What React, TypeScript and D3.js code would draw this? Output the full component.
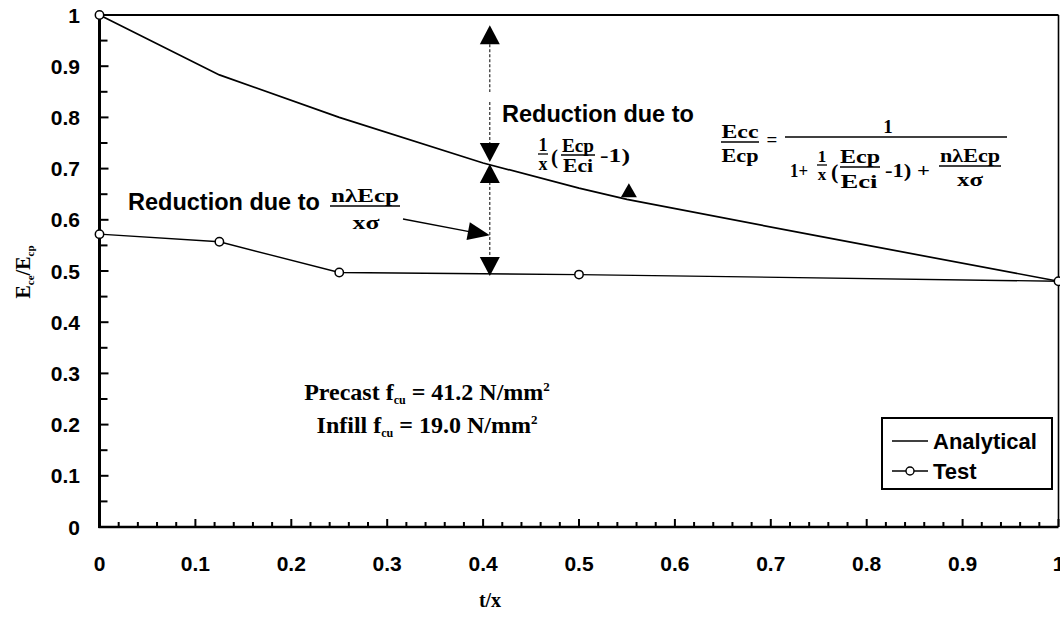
import React from 'react';
import * as d3 from 'd3';

// ---- data ----
const analyticalX = [0, 0.125, 0.25, 0.4, 0.5, 0.55, 0.75, 1];
const analyticalY = [1, 0.883, 0.8, 0.711, 0.662, 0.64, 0.568, 0.48];
const testX = [0, 0.125, 0.25, 0.5, 1];
const testY = [0.572, 0.557, 0.497, 0.493, 0.48];
const extraPointX = [0];
const extraPointY = [1];
const xTickValues = [0, 0.1, 0.2, 0.3, 0.4, 0.5, 0.6, 0.7, 0.8, 0.9, 1];
const xTickLabels = ['0', '0.1', '0.2', '0.3', '0.4', '0.5', '0.6', '0.7', '0.8', '0.9', '1'];
const yTickValues = [0, 0.1, 0.2, 0.3, 0.4, 0.5, 0.6, 0.7, 0.8, 0.9, 1];
const yTickLabels = ['0', '0.1', '0.2', '0.3', '0.4', '0.5', '0.6', '0.7', '0.8', '0.9', '1'];
const seriesNames = ['Analytical', 'Test'];
// annotation anchors (data units)
const dimX = 0.407;
const dimTop = 0.98;
const dimMid = 0.711;
const dimBottom = 0.49;
const pointerTriX = 0.552;
const pointerTriY = 0.64;

const W = 1060;
const H = 618;
const SANS = '"Liberation Sans", Arial, Helvetica, sans-serif';
const SERIF = '"Liberation Serif", "Times New Roman", serif';

function tri(ax: number, ay: number, dx: number, dy: number, len: number, hw: number) {
  const n = Math.hypot(dx, dy);
  const ux = dx / n, uy = dy / n;
  const bx = ax - ux * len, by = ay - uy * len;
  const px = -uy, py = ux;
  return `M${ax},${ay}L${bx + px * hw},${by + py * hw}L${bx - px * hw},${by - py * hw}Z`;
}

function T(props: { x: number; y: number; w?: number; size?: number; anchor?: string; children: React.ReactNode }) {
  const { x, y, w, size, anchor, children } = props;
  return (
    <text
      x={x}
      y={y}
      fontSize={size}
      textAnchor={anchor || 'middle'}
      {...(w ? { textLength: w, lengthAdjust: 'spacingAndGlyphs' } : {})}
    >
      {children}
    </text>
  );
}

export default function App() {
  const x = d3.scaleLinear().domain([0, 1]).range([99.5, 1058.5]);
  const y = d3.scaleLinear().domain([0, 1]).range([527, 15]);
  const line = d3.line<[number, number]>().x((d) => x(d[0])).y((d) => y(d[1]));
  const analytical: [number, number][] = analyticalX.map((v, i) => [v, analyticalY[i]]);
  const test: [number, number][] = testX.map((v, i) => [v, testY[i]]);

  const xMinor = d3.range(0, 51).map((i) => i / 50).filter((_, i) => i % 5 !== 0);
  const yMinor = d3.range(0, 21).map((i) => i / 20).filter((_, i) => i % 2 !== 0);

  const dx = x(dimX);
  const aw = 10;
  const al = 19;

  const pStart: [number, number] = [403, 219];
  const pEnd: [number, number] = [dx, y(0.57)];

  const ptx = x(pointerTriX);
  const pty = y(pointerTriY) - 2;

  return (
    <svg width={W} height={H} style={{ position: 'absolute', left: 0, top: 0, background: '#fff' }}>
      <rect width={W} height={H} fill="#fff" />
      {/* frame */}
      <line x1={x(0)} x2={x(1)} y1={y(1)} y2={y(1)} stroke="#000" strokeWidth={2.2} />
      <line x1={x(1)} x2={x(1)} y1={y(1)} y2={y(0)} stroke="#000" strokeWidth={1.6} />
      <line x1={x(0)} x2={x(0)} y1={y(1) - 1} y2={y(0) + 1} stroke="#000" strokeWidth={3} />
      <line x1={x(0) - 1} x2={x(1)} y1={y(0)} y2={y(0)} stroke="#000" strokeWidth={2.6} />

      {/* y ticks */}
      {yTickValues.map((v) => (
        <line key={'yt' + v} x1={x(0)} x2={x(0) + 9} y1={y(v)} y2={y(v)} stroke="#000" strokeWidth={2} />
      ))}
      {yMinor.map((v) => (
        <line key={'ym' + v} x1={x(0)} x2={x(0) + 8} y1={y(v)} y2={y(v)} stroke="#000" strokeWidth={2} />
      ))}
      {yTickValues.map((v, i) => (
        <text key={'yl' + v} x={80} y={y(v)} dy="0.36em" textAnchor="end" fontFamily={SANS} fontWeight="bold" fontSize={21}>
          {yTickLabels[i]}
        </text>
      ))}

      {/* x ticks */}
      {xTickValues.map((v) => (
        <line key={'xt' + v} x1={x(v)} x2={x(v)} y1={y(0)} y2={y(0) - 8} stroke="#000" strokeWidth={2} />
      ))}
      {xMinor.map((v) => (
        <line key={'xm' + v} x1={x(v)} x2={x(v)} y1={y(0)} y2={y(0) - 5} stroke="#000" strokeWidth={2} />
      ))}
      {xTickValues.map((v, i) => (
        <text key={'xl' + v} x={x(v)} y={571} textAnchor="middle" fontFamily={SANS} fontWeight="bold" fontSize={21}>
          {xTickLabels[i]}
        </text>
      ))}

      {/* axis titles */}
      <text x={490} y={607} textAnchor="middle" fontFamily={SERIF} fontWeight="bold" fontSize={20}>t/x</text>
      <text transform="translate(30,272) rotate(-90)" textAnchor="middle" fontFamily={SERIF} fontWeight="bold" fontSize={20}>
        E<tspan fontSize={11} dy={4}>ce</tspan><tspan dy={-4}>/E</tspan><tspan fontSize={11} dy={4}>cp</tspan>
      </text>

      {/* series */}
      <path d={line(analytical) || ''} fill="none" stroke="#000" strokeWidth={1.7} />
      <path d={line(test) || ''} fill="none" stroke="#000" strokeWidth={1.4} />
      {test.map((d, i) => (
        <circle key={'tc' + i} cx={x(d[0])} cy={y(d[1])} r={4.2} fill="#fff" stroke="#000" strokeWidth={1.5} />
      ))}
      {extraPointX.map((v, i) => (
        <circle key={'ep' + i} cx={x(v)} cy={y(extraPointY[i])} r={4.2} fill="#fff" stroke="#000" strokeWidth={1.5} />
      ))}

      {/* dimension line at t/x ~ 0.4 */}
      <line x1={dx} x2={dx} y1={y(dimTop) + al} y2={92} stroke="#000" strokeWidth={1} strokeDasharray="3,2" />
      <line x1={dx} x2={dx} y1={102} y2={y(dimMid) - al} stroke="#000" strokeWidth={1} strokeDasharray="3,2" />
      <line x1={dx} x2={dx} y1={y(dimMid) + al} y2={y(dimBottom) - al} stroke="#000" strokeWidth={1} strokeDasharray="3,2" />
      <path d={tri(dx, y(dimTop), 0, -1, al, aw)} fill="#000" />
      <path d={tri(dx, y(dimMid) - 1, 0, 1, al, aw)} fill="#000" />
      <path d={tri(dx, y(dimMid) + 1, 0, -1, al, aw)} fill="#000" />
      <path d={tri(dx, y(dimBottom), 0, 1, al, aw)} fill="#000" />

      {/* left pointer arrow */}
      <line x1={pStart[0]} y1={pStart[1]} x2={pEnd[0] - 18} y2={pEnd[1] - 3} stroke="#000" strokeWidth={1.3} />
      <path d={tri(pEnd[0], pEnd[1], pEnd[0] - pStart[0], pEnd[1] - pStart[1], 22, 9)} fill="#000" />

      {/* pointer triangle on analytical curve */}
      <path d={tri(ptx, pty - 14, 0, -1, 14, 8)} fill="#000" />

      {/* right reduction annotation */}
      <text x={502} y={122} fontFamily={SANS} fontWeight="bold" fontSize={23.5}>Reduction due to</text>
      <g fontFamily={SERIF} fontWeight="bold" fontSize={18}>
        <T x={543} y={151}>1</T>
        <line x1={538} x2={548} y1={154} y2={154} stroke="#000" strokeWidth={1.3} />
        <T x={543} y={170}>x</T>
        <T x={551} y={164} size={21} anchor="start">(</T>
        <T x={578} y={152} w={32}>Ecp</T>
        <line x1={561} x2={595} y1={155} y2={155} stroke="#000" strokeWidth={1.3} />
        <T x={578} y={172} w={30}>Eci</T>
        <T x={600} y={162} anchor="start" w={30}>-1)</T>
      </g>

      {/* left reduction annotation */}
      <text x={128} y={210} fontFamily={SANS} fontWeight="bold" fontSize={23.5}>Reduction due to</text>
      <g fontFamily={SERIF} fontWeight="bold" fontSize={19}>
        <T x={365} y={202} w={68}>nλEcp</T>
        <line x1={330} x2={400} y1={206} y2={206} stroke="#000" strokeWidth={1.3} />
        <T x={366} y={229} w={27}>xσ</T>
      </g>

      {/* main formula */}
      <g fontFamily={SERIF} fontWeight="bold" fontSize={19}>
        <T x={740} y={138} w={37}>Ecc</T>
        <line x1={721} x2={759} y1={142} y2={142} stroke="#000" strokeWidth={1.3} />
        <T x={740} y={162} w={37}>Ecp</T>
        <T x={772} y={146}>=</T>
        <T x={888} y={133}>1</T>
        <line x1={785} x2={1007} y1={137} y2={137} stroke="#000" strokeWidth={1.3} />
        <T x={790} y={177} anchor="start" w={18}>1+</T>
        <T x={822} y={162} size={17}>1</T>
        <line x1={817} x2={827} y1={165} y2={165} stroke="#000" strokeWidth={1.3} />
        <T x={822} y={180} size={17}>x</T>
        <T x={831} y={179} size={22} anchor="start">(</T>
        <T x={860} y={163} w={40}>Ecp</T>
        <line x1={840} x2={880} y1={167} y2={167} stroke="#000" strokeWidth={1.3} />
        <T x={859} y={188} w={37}>Eci</T>
        <T x={885} y={177} anchor="start" w={45}>-1) +</T>
        <T x={970} y={162} w={60}>nλEcp</T>
        <line x1={939} x2={1001} y1={166} y2={166} stroke="#000" strokeWidth={1.3} />
        <T x={970} y={186} w={26}>xσ</T>
      </g>

      {/* material note */}
      <g fontFamily={SERIF} fontWeight="bold" fontSize={24} textAnchor="middle">
        <text x={427} y={400}>
          Precast f<tspan fontSize={12} dy={4}>cu</tspan><tspan dy={-4}> = 41.2 N/mm</tspan><tspan fontSize={13} dy={-9}>2</tspan>
        </text>
        <text x={427} y={433}>
          Infill f<tspan fontSize={12} dy={4}>cu</tspan><tspan dy={-4}> = 19.0 N/mm</tspan><tspan fontSize={13} dy={-9}>2</tspan>
        </text>
      </g>

      {/* legend */}
      <rect x={882} y={418} width={170} height={71} fill="#fff" stroke="#000" strokeWidth={2} />
      <line x1={892} x2={928} y1={441} y2={441} stroke="#000" strokeWidth={1.4} />
      <text x={933} y={449} fontFamily={SANS} fontWeight="bold" fontSize={22}>{seriesNames[0]}</text>
      <line x1={892} x2={928} y1={471} y2={471} stroke="#000" strokeWidth={1.4} />
      <circle cx={910} cy={471} r={4} fill="#fff" stroke="#000" strokeWidth={1.4} />
      <text x={933} y={479} fontFamily={SANS} fontWeight="bold" fontSize={22}>{seriesNames[1]}</text>
    </svg>
  );
}
